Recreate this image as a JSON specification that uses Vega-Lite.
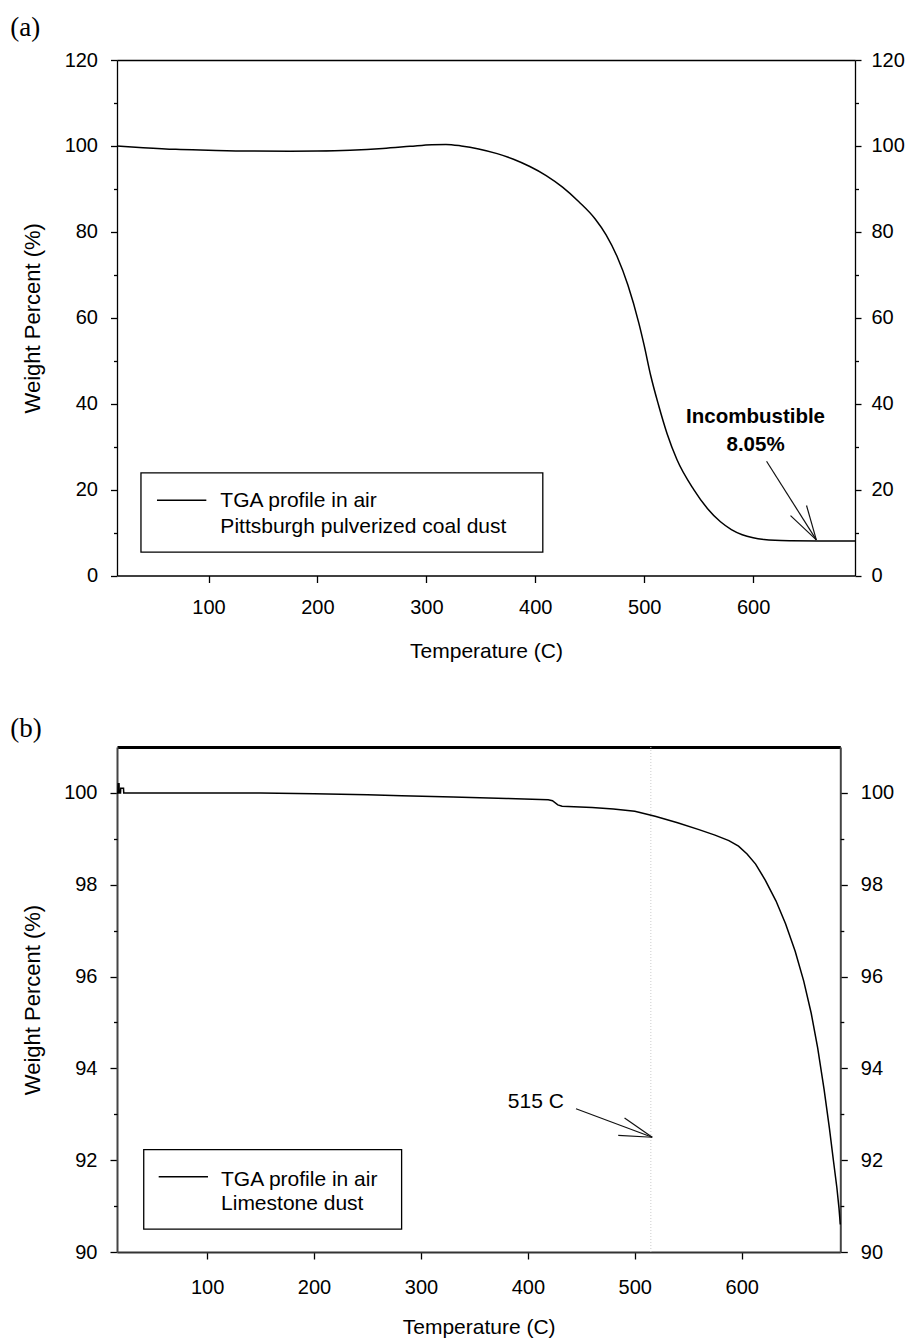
{
  "$schema": "https://vega.github.io/schema/vega-lite/v6.json",
  "background": "white",
  "padding": {"left": 10, "top": 13, "right": 4, "bottom": 0},
  "spacing": 54,
  "config": {
    "font": "Liberation Sans",
    "view": {"stroke": null},
    "axis": {
      "labelFont": "Liberation Sans", "labelFontSize": 20, "labelColor": "#000",
      "titleFont": "Liberation Sans", "titleFontWeight": "normal", "titleColor": "#000",
      "grid": false, "tickColor": "#000", "domainColor": "#000",
      "labelFlush": false, "labelOverlap": false, "tickWidth": 1.3, "domainWidth": 1.3
    }
  },
  "vconcat": [
    {
      "width": 738, "height": 515.5,
      "title": {"text": "(a)", "anchor": "start", "frame": "group", "dx": -106.7, "offset": -12.5, "baseline": "alphabetic", "font": "Liberation Serif", "fontSize": 27, "fontWeight": "normal", "color": "#000"},
      "data": {"values": [
        {"T": 16, "W": 100.0}, {"T": 40, "W": 99.6}, {"T": 70, "W": 99.2}, {"T": 100, "W": 99.0},
        {"T": 138, "W": 98.8}, {"T": 175, "W": 98.75}, {"T": 200, "W": 98.8}, {"T": 230, "W": 99.0},
        {"T": 260, "W": 99.4}, {"T": 285, "W": 99.9}, {"T": 305, "W": 100.3}, {"T": 318, "W": 100.35},
        {"T": 332, "W": 100.0}, {"T": 348, "W": 99.3}, {"T": 365, "W": 98.2}, {"T": 380, "W": 96.9},
        {"T": 395, "W": 95.2}, {"T": 410, "W": 93.1}, {"T": 425, "W": 90.4}, {"T": 440, "W": 87.0},
        {"T": 455, "W": 83.0}, {"T": 465, "W": 79.3}, {"T": 475, "W": 74.3}, {"T": 485, "W": 67.6},
        {"T": 495, "W": 58.8}, {"T": 500, "W": 53.5}, {"T": 506, "W": 46.5}, {"T": 513, "W": 39.8},
        {"T": 521, "W": 33.0}, {"T": 530, "W": 27.0}, {"T": 545.5, "W": 20.0}, {"T": 558, "W": 15.6},
        {"T": 570, "W": 12.5}, {"T": 580, "W": 10.7}, {"T": 590, "W": 9.5}, {"T": 600, "W": 8.8},
        {"T": 610, "W": 8.4}, {"T": 620, "W": 8.2}, {"T": 635, "W": 8.1}, {"T": 660, "W": 8.05},
        {"T": 693.5, "W": 8.05}
      ]},
      "resolve": {"axis": {"x": "independent", "y": "independent"}},
      "layer": [
        {
          "mark": {"type": "line", "color": "#000", "strokeWidth": 1.5, "interpolate": "monotone"},
          "encoding": {
            "x": {"field": "T", "type": "quantitative", "scale": {"domain": [16, 693.5], "nice": false, "zero": false},
              "axis": {"orient": "bottom", "values": [100, 200, 300, 400, 500, 600], "tickSize": 7, "labelPadding": 15,
                "title": "Temperature (C)", "titleFontSize": 21, "titleY": 81.5, "titleBaseline": "alphabetic"}},
            "y": {"field": "W", "type": "quantitative", "scale": {"domain": [0, 120], "nice": false, "zero": false},
              "axis": {"orient": "left", "values": [0, 20, 40, 60, 80, 100, 120], "tickSize": 6.5, "labelPadding": 13,
                "title": "Weight Percent (%)", "titleFontSize": 22, "titleX": -85, "titleBaseline": "middle"}}
          }
        },
        {
          "mark": {"type": "line", "strokeOpacity": 0},
          "encoding": {
            "x": {"field": "T", "type": "quantitative", "axis": {"orient": "top", "ticks": false, "labels": false, "title": null}},
            "y": {"field": "W", "type": "quantitative", "axis": {"orient": "right", "values": [0, 20, 40, 60, 80, 100, 120], "tickSize": 6, "labelPadding": 10, "title": null}}
          }
        },
        {
          "mark": {"type": "line", "strokeOpacity": 0},
          "encoding": {
            "x": {"field": "T", "type": "quantitative", "axis": null},
            "y": {"field": "W", "type": "quantitative", "axis": {"orient": "left", "values": [10, 30, 50, 70, 90, 110], "labels": false, "domain": false, "tickSize": 3.5, "title": null}}
          }
        },
        {
          "mark": {"type": "line", "strokeOpacity": 0},
          "encoding": {
            "x": {"field": "T", "type": "quantitative", "axis": null},
            "y": {"field": "W", "type": "quantitative", "axis": {"orient": "right", "values": [10, 30, 50, 70, 90, 110], "labels": false, "domain": false, "tickSize": 3.5, "title": null}}
          }
        },
        {
          "data": {"values": [{}]},
          "mark": {"type": "rect", "fill": "white", "stroke": "#000", "strokeWidth": 1.3},
          "encoding": {
            "x": {"datum": 38.0, "type": "quantitative", "axis": null}, "x2": {"datum": 406.9},
            "y": {"datum": 23.88, "type": "quantitative", "axis": null}, "y2": {"datum": 5.42}
          }
        },
        {
          "data": {"values": [{}]},
          "mark": {"type": "rule", "stroke": "#000", "strokeWidth": 1.5},
          "encoding": {
            "x": {"datum": 52.7, "type": "quantitative", "axis": null}, "x2": {"datum": 98.0},
            "y": {"datum": 17.5, "type": "quantitative", "axis": null}
          }
        },
        {
          "data": {"values": [{}]},
          "mark": {"type": "text", "text": ["TGA profile in air", "Pittsburgh pulverized coal dust"], "font": "Liberation Sans", "fontSize": 21, "align": "left", "baseline": "alphabetic", "lineHeight": 25.6, "fill": "#000"},
          "encoding": {
            "x": {"datum": 110.9, "type": "quantitative", "axis": null},
            "y": {"datum": 15.9, "type": "quantitative", "axis": null}
          }
        },
        {
          "data": {"values": [{}]},
          "mark": {"type": "text", "text": ["Incombustible", "8.05%"], "font": "Liberation Sans", "fontSize": 20.5, "fontWeight": "bold", "align": "center", "baseline": "alphabetic", "lineHeight": 28.4, "fill": "#000"},
          "encoding": {
            "x": {"datum": 602.2, "type": "quantitative", "axis": null},
            "y": {"datum": 35.5, "type": "quantitative", "axis": null}
          }
        },
        {
          "data": {"values": [{}]},
          "mark": {"type": "rule", "stroke": "#111", "strokeWidth": 1.2},
          "encoding": {
            "x": {"datum": 612.3, "type": "quantitative", "axis": null}, "x2": {"datum": 658.0},
            "y": {"datum": 26.6, "type": "quantitative", "axis": null}, "y2": {"datum": 8.3}
          }
        },
        {
          "data": {"values": [{}]},
          "mark": {"type": "rule", "stroke": "#111", "strokeWidth": 1.2},
          "encoding": {
            "x": {"datum": 634.3, "type": "quantitative", "axis": null}, "x2": {"datum": 658.0},
            "y": {"datum": 13.95, "type": "quantitative", "axis": null}, "y2": {"datum": 8.3}
          }
        },
        {
          "data": {"values": [{}]},
          "mark": {"type": "rule", "stroke": "#111", "strokeWidth": 1.2},
          "encoding": {
            "x": {"datum": 649.0, "type": "quantitative", "axis": null}, "x2": {"datum": 658.0},
            "y": {"datum": 16.3, "type": "quantitative", "axis": null}, "y2": {"datum": 8.3}
          }
        }
      ]
    },
    {
      "width": 723.3, "height": 505,
      "title": {"text": "(b)", "anchor": "start", "frame": "group", "dx": -106.7, "offset": -17.5, "baseline": "alphabetic", "font": "Liberation Serif", "fontSize": 27, "fontWeight": "normal", "color": "#000"},
      "data": {"values": [
        {"T": 15.7, "W": 100.0}, {"T": 16.5, "W": 100.0}, {"T": 16.8, "W": 100.2}, {"T": 17.6, "W": 100.2},
        {"T": 17.8, "W": 100.0}, {"T": 19.0, "W": 100.0}, {"T": 19.2, "W": 100.1}, {"T": 21.8, "W": 100.1},
        {"T": 22.0, "W": 100.0}, {"T": 50, "W": 100.0}, {"T": 100, "W": 100.0}, {"T": 150, "W": 100.0},
        {"T": 200, "W": 99.98}, {"T": 250, "W": 99.96}, {"T": 282, "W": 99.94}, {"T": 330, "W": 99.91},
        {"T": 380, "W": 99.88}, {"T": 419, "W": 99.85}, {"T": 423, "W": 99.83}, {"T": 428, "W": 99.74},
        {"T": 432, "W": 99.71}, {"T": 460, "W": 99.68}, {"T": 480, "W": 99.65}, {"T": 500, "W": 99.6},
        {"T": 519, "W": 99.49}, {"T": 540, "W": 99.35}, {"T": 560, "W": 99.2}, {"T": 575, "W": 99.08},
        {"T": 588, "W": 98.96}, {"T": 597, "W": 98.84}, {"T": 605, "W": 98.67}, {"T": 613, "W": 98.45},
        {"T": 622, "W": 98.1}, {"T": 632, "W": 97.65}, {"T": 641, "W": 97.15}, {"T": 650, "W": 96.55},
        {"T": 658, "W": 95.9}, {"T": 665, "W": 95.2}, {"T": 671, "W": 94.45}, {"T": 677, "W": 93.55},
        {"T": 682, "W": 92.7}, {"T": 686, "W": 91.95}, {"T": 689, "W": 91.4}, {"T": 691, "W": 90.95},
        {"T": 692.2, "W": 90.6}
      ]},
      "resolve": {"axis": {"x": "independent", "y": "independent"}},
      "layer": [
        {
          "data": {"values": [{}]},
          "mark": {"type": "rule", "stroke": "#ccc", "strokeDash": [1, 2], "strokeWidth": 1},
          "encoding": {"x": {"datum": 515, "type": "quantitative", "axis": null}}
        },
        {
          "mark": {"type": "line", "stroke": "#000", "strokeWidth": 1.5},
          "encoding": {
            "x": {"field": "T", "type": "quantitative", "scale": {"domain": [15.7, 692.2], "nice": false, "zero": false},
              "axis": {"orient": "bottom", "values": [100, 200, 300, 400, 500, 600], "tickSize": 7, "labelPadding": 18,
                "domainWidth": 2.2, "domainColor": "#333",
                "title": "Temperature (C)", "titleFontSize": 21, "titleY": 81.5, "titleBaseline": "alphabetic"}},
            "y": {"field": "W", "type": "quantitative", "scale": {"domain": [90, 101], "nice": false, "zero": false},
              "axis": {"orient": "left", "values": [90, 92, 94, 96, 98, 100], "tickSize": 7, "labelPadding": 13,
                "domainWidth": 2, "domainColor": "#444",
                "title": "Weight Percent (%)", "titleFontSize": 22, "titleX": -85, "titleBaseline": "middle"}}
          }
        },
        {
          "mark": {"type": "line", "strokeOpacity": 0},
          "encoding": {
            "x": {"field": "T", "type": "quantitative", "axis": {"orient": "top", "ticks": false, "labels": false, "title": null, "domainWidth": 2.8}},
            "y": {"field": "W", "type": "quantitative", "axis": {"orient": "right", "values": [90, 92, 94, 96, 98, 100], "tickSize": 7, "labelPadding": 13, "domainWidth": 2, "domainColor": "#444", "title": null}}
          }
        },
        {
          "mark": {"type": "line", "strokeOpacity": 0},
          "encoding": {
            "x": {"field": "T", "type": "quantitative", "axis": null},
            "y": {"field": "W", "type": "quantitative", "axis": {"orient": "left", "values": [91, 93, 95, 97, 99], "labels": false, "domain": false, "tickSize": 3.5, "title": null}}
          }
        },
        {
          "mark": {"type": "line", "strokeOpacity": 0},
          "encoding": {
            "x": {"field": "T", "type": "quantitative", "axis": null},
            "y": {"field": "W", "type": "quantitative", "axis": {"orient": "right", "values": [91, 93, 95, 97, 99], "labels": false, "domain": false, "tickSize": 3.5, "title": null}}
          }
        },
        {
          "data": {"values": [{}]},
          "mark": {"type": "rect", "fill": "white", "stroke": "#000", "strokeWidth": 1.3},
          "encoding": {
            "x": {"datum": 40.7, "type": "quantitative", "axis": null}, "x2": {"datum": 281.9},
            "y": {"datum": 92.23, "type": "quantitative", "axis": null}, "y2": {"datum": 90.5}
          }
        },
        {
          "data": {"values": [{}]},
          "mark": {"type": "rule", "stroke": "#000", "strokeWidth": 1.5},
          "encoding": {
            "x": {"datum": 54.7, "type": "quantitative", "axis": null}, "x2": {"datum": 100.8},
            "y": {"datum": 91.64, "type": "quantitative", "axis": null}
          }
        },
        {
          "data": {"values": [{}]},
          "mark": {"type": "text", "text": ["TGA profile in air", "Limestone dust"], "font": "Liberation Sans", "fontSize": 21, "align": "left", "baseline": "alphabetic", "lineHeight": 24, "fill": "#000"},
          "encoding": {
            "x": {"datum": 113, "type": "quantitative", "axis": null},
            "y": {"datum": 91.447, "type": "quantitative", "axis": null}
          }
        },
        {
          "data": {"values": [{}]},
          "mark": {"type": "text", "text": "515 C", "font": "Liberation Sans", "fontSize": 21, "align": "center", "baseline": "alphabetic", "fill": "#000"},
          "encoding": {
            "x": {"datum": 407.4, "type": "quantitative", "axis": null},
            "y": {"datum": 93.14, "type": "quantitative", "axis": null}
          }
        },
        {
          "data": {"values": [{}]},
          "mark": {"type": "rule", "stroke": "#111", "strokeWidth": 1.2},
          "encoding": {
            "x": {"datum": 445, "type": "quantitative", "axis": null}, "x2": {"datum": 516.3},
            "y": {"datum": 93.12, "type": "quantitative", "axis": null}, "y2": {"datum": 92.5}
          }
        },
        {
          "data": {"values": [{}]},
          "mark": {"type": "rule", "stroke": "#111", "strokeWidth": 1.2},
          "encoding": {
            "x": {"datum": 490.4, "type": "quantitative", "axis": null}, "x2": {"datum": 516.3},
            "y": {"datum": 92.92, "type": "quantitative", "axis": null}, "y2": {"datum": 92.5}
          }
        },
        {
          "data": {"values": [{}]},
          "mark": {"type": "rule", "stroke": "#111", "strokeWidth": 1.2},
          "encoding": {
            "x": {"datum": 484.5, "type": "quantitative", "axis": null}, "x2": {"datum": 516.3},
            "y": {"datum": 92.54, "type": "quantitative", "axis": null}, "y2": {"datum": 92.5}
          }
        }
      ]
    }
  ]
}
